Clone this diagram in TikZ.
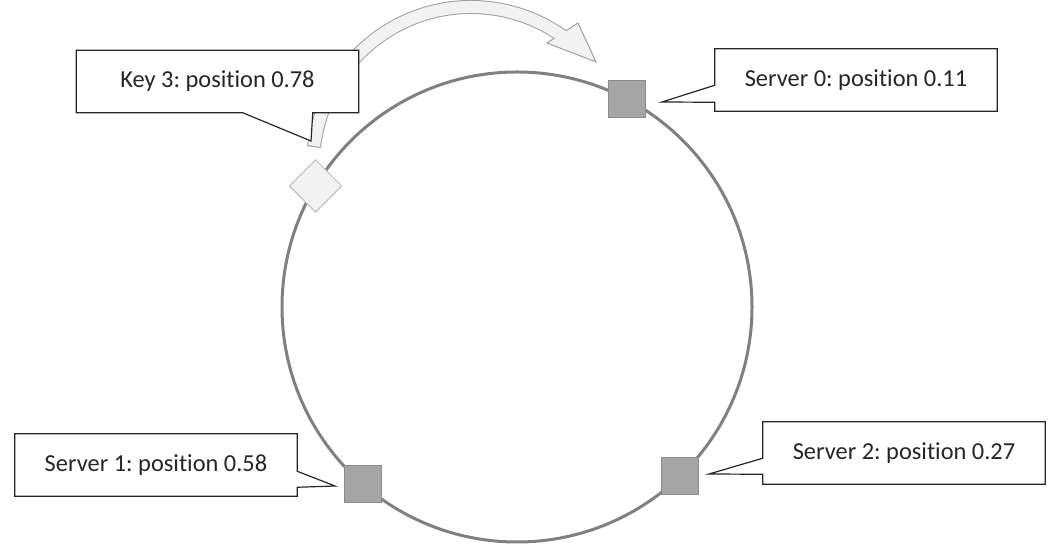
\documentclass[tikz,border=0pt]{standalone}
\usepackage{fontspec}
\setmainfont{Carlito}[Ligatures=NoCommon]
\frenchspacing
\usetikzlibrary{positioning,calc,backgrounds}
\definecolor{ringgray}{HTML}{808080}
\definecolor{servergray}{HTML}{A5A5A5}
\definecolor{serverline}{HTML}{8C8C8C}
\definecolor{keyfill}{HTML}{F2F2F2}
\definecolor{keyline}{HTML}{BFBFBF}
\definecolor{arrowline}{HTML}{A0A0A0}

\begin{document}
\begin{tikzpicture}[x=0.75pt,y=0.75pt,
  server/.style={draw=serverline,fill=servergray,line width=0.75pt,minimum size=27.75pt,inner sep=0pt},
  keymark/.style={server,draw=keyline,fill=keyfill,rotate=45},
  labelbox/.style={minimum width=211.5pt,minimum height=46.5pt,inner sep=0pt,text=black!85,
    font=\fontsize{18.3}{22}\selectfont},
  balloon/.style={draw=black!85,fill=white,line width=0.9pt,line join=miter}]
  \useasboundingbox (0,0) rectangle (1064,560);

  \node[circle,draw=ringgray,line width=2.25pt,minimum size=352.5pt,inner sep=0pt,outer sep=0pt] (ring) at (517,253) {};
  \path
  node[server] (s0) at (ring.62.2) {}
  node[server] (s1) at (ring.229.5) {}
  node[server] (s2) at (ring.314.3) {}
  node[keymark] (k3) at (ring.149) {}
  ;

  \path
  node[labelbox] (key) at (217.5,478.5) {Key 3: position 0.78}
  node[labelbox] (lab0) at (856,480) {Server 0: position 0.11}
  node[labelbox] (lab1) at (156,95) {Server 1: position 0.58}
  node[labelbox] (lab2) at (904,107) {Server 2: position 0.27}
  ;
  \coordinate (key tip) at (311,419);
  \coordinate (tip0) at (662,458);
  \coordinate (tip1) at (335,74);
  \coordinate (tip2) at (709,86);
  \coordinate (arc c) at (471,395);

  \begin{scope}[on background layer]
    \draw[arrowline,line width=10.5pt] ([shift={(173.5:158)}]arc c) arc[start angle=173.5,end angle=52,radius=158];
    \filldraw[fill=keyfill,draw=arrowline,line width=0.75pt,line join=miter] (547,517) -- (596,498) -- (578,537) -- cycle;
    \draw[keyfill,line width=9pt] ([shift={(173.1:158)}]arc c) arc[start angle=173.1,end angle=52,radius=158];

    \draw[balloon] (key.north west) -- (key.north east) -- (key.south east) -- ($(key.south east)+(-46,0)$)
      -- (key tip) -- ($(key.south east)+(-116,0)$) -- (key.south west) -- cycle;
    \draw[balloon] (lab0.north west) -- (lab0.north east) -- (lab0.south east) -- (lab0.south west)
      -- ($(lab0.south west)+(0,9)$) -- (tip0) -- ($(lab0.south west)+(0,26)$) -- cycle;
    \draw[balloon] (lab1.north west) -- (lab1.north east) -- ($(lab1.south east)+(0,25)$) -- (tip1)
      -- ($(lab1.south east)+(0,9)$) -- (lab1.south east) -- (lab1.south west) -- cycle;
    \draw[balloon] (lab2.north west) -- (lab2.north east) -- (lab2.south east) -- (lab2.south west)
      -- ($(lab2.south west)+(0,10)$) -- (tip2) -- ($(lab2.south west)+(0,26)$) -- cycle;
  \end{scope}
\end{tikzpicture}
\end{document}
